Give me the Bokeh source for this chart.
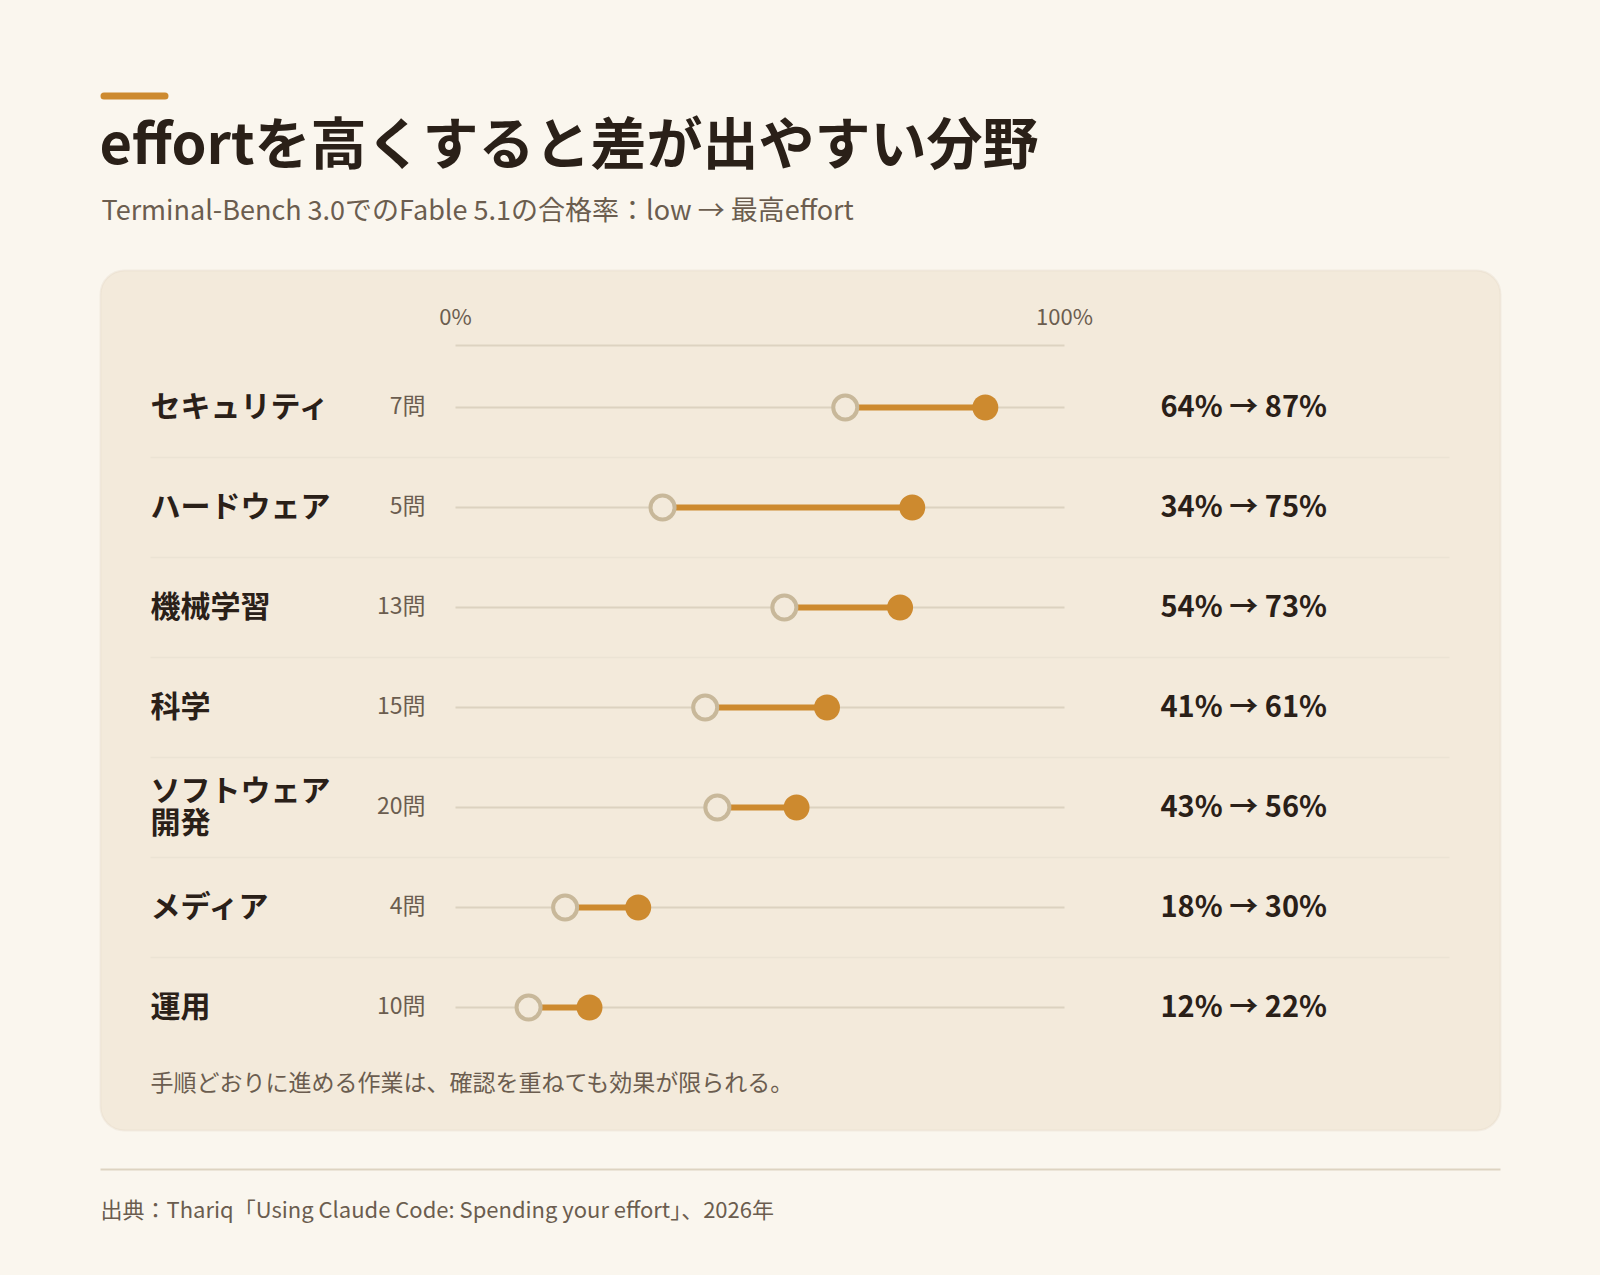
from bokeh.plotting import figure
from bokeh.models import Range1d, BoxAnnotation
from bokeh.core.properties import value
from bokeh.embed import file_html
from bokeh.resources import INLINE

# data
categories = ["セキュリティ", "ハードウェア", "機械学習", "科学", "ソフトウェア開発", "メディア", "運用"]
labels = ["セキュリティ", "ハードウェア", "機械学習", "科学", "ソフトウェア\n開発", "メディア", "運用"]
counts = [7, 5, 13, 15, 20, 4, 10]
low = [64, 34, 54, 41, 43, 18, 12]
high = [87, 75, 73, 61, 56, 30, 22]
ticks = [0, 100]

title = "effortを高くすると差が出やすい分野"
subtitle = "Terminal-Bench 3.0でのFable 5.1の合格率：low → 最高effort"
note = "手順どおりに進める作業は、確認を重ねても効果が限られる。"
source = "出典：Thariq「Using Claude Code: Spending your effort」、2026年"

BG = "#faf6ee"
PANEL = "#f3eadb"
ACCENT = "#cd8a2f"
INK = "#2a2018"
MUTED = "#6b5d4f"
FONT = value("Noto Sans CJK JP")

rows = list(range(len(categories)))
text_rows = [r - 0.035 for r in rows]  # cjk glyphs sit a little low on "middle"

p = figure(width=1584, height=1259, output_backend="svg", toolbar_location=None,
           x_range=Range1d(0, 1584), y_range=Range1d(1259, 0),
           min_border=0, background_fill_color=BG, border_fill_color=BG)
p.axis.visible = False
p.grid.visible = False
p.outline_line_color = None

# percent scale and row scale
p.extra_x_ranges = {"pct": Range1d((0 - 455) / 6.09, (1584 - 455) / 6.09)}
p.extra_y_ranges = {"row": Range1d((1259 - 407) / 100, (0 - 407) / 100)}

# header
p.add_layout(BoxAnnotation(left=100, right=168, top=92, bottom=99, fill_color=ACCENT,
                           fill_alpha=1, line_color=None, border_radius=4))
p.text(x=[99], y=[139], text=[title], text_font=FONT, text_font_style="bold",
       text_font_size="56px", text_color=INK, text_baseline="middle")
p.text(x=[101], y=[208], text=[subtitle], text_font=FONT, text_font_size="27px",
       text_color=MUTED, text_baseline="middle")

# panel
p.add_layout(BoxAnnotation(left=100, right=1500, top=270, bottom=1130, fill_color=PANEL,
                           fill_alpha=1, line_color="#e0d5c2", line_width=2, border_radius=24,
                           level="underlay"))

# top axis
p.segment(x0=[0], x1=[100], y0=[345], y1=[345], x_range_name="pct",
          line_color="#ddd3c1", line_width=2)
p.text(x=ticks, y=[314] * 2, text=[f"{t}%" for t in ticks], x_range_name="pct",
       text_font=FONT, text_font_size="22px", text_color=MUTED,
       text_align="center", text_baseline="middle")

# row separators
sep = [r + 0.5 for r in rows[:-1]]
p.segment(x0=[150] * len(sep), x1=[1449] * len(sep), y0=sep, y1=sep, y_range_name="row",
          line_color="#ebe3d4", line_width=1.5)

# tracks
p.segment(x0=[0] * len(rows), x1=[100] * len(rows), y0=rows, y1=rows,
          x_range_name="pct", y_range_name="row", line_color="#dcd2c0", line_width=2)

# dumbbells
p.segment(x0=low, x1=high, y0=rows, y1=rows, x_range_name="pct", y_range_name="row",
          line_color=ACCENT, line_width=6)
p.scatter(low, rows, x_range_name="pct", y_range_name="row", size=24,
          fill_color=PANEL, line_color="#c8b89a", line_width=4)
p.scatter(high, rows, x_range_name="pct", y_range_name="row", size=26,
          fill_color=ACCENT, line_color=None)

# row labels
p.text(x=[150] * len(rows), y=text_rows, text=labels, y_range_name="row",
       text_font=FONT, text_font_style="bold", text_font_size="30px", text_color=INK,
       text_baseline="middle", text_line_height=0.72)
p.text(x=[425] * len(rows), y=text_rows, text=[f"{c}問" for c in counts],
       y_range_name="row", text_font=FONT, text_font_size="23px", text_color=MUTED,
       text_align="right", text_baseline="middle")
p.text(x=[1160] * len(rows), y=text_rows, text=[f"{a}% → {b}%" for a, b in zip(low, high)],
       y_range_name="row", text_font=FONT, text_font_style="bold", text_font_size="29px",
       text_color=INK, text_baseline="middle")

# note and source
p.text(x=[150], y=[1080], text=[note], text_font=FONT, text_font_size="23px",
       text_color=MUTED, text_baseline="middle")
p.segment(x0=[100], x1=[1500], y0=[1169], y1=[1169], line_color="#ddd3c1", line_width=2)
p.text(x=[100], y=[1207], text=[source], text_font=FONT, text_font_size="22px",
       text_color=MUTED, text_baseline="middle")

html = file_html(p, INLINE)
html = html.replace("<head>", "<head><style>body{background:%s}</style>" % BG, 1)
open("out.html", "w").write(html)
